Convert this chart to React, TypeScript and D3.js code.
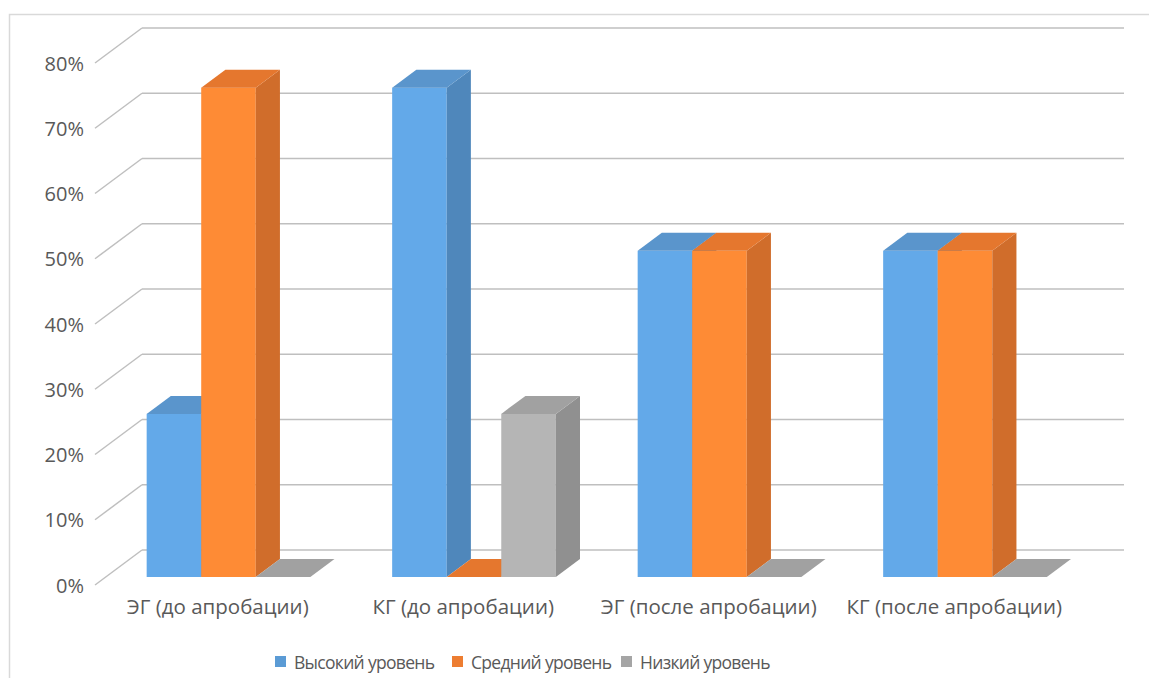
import React from "react";
import * as d3 from "d3";

const categories = ["ЭГ (до апробации)", "КГ (до апробации)", "ЭГ (после апробации)", "КГ (после апробации)"];
const seriesNames = ["Высокий уровень", "Средний уровень", "Низкий уровень"];
const high = [0.25, 0.75, 0.5, 0.5];
const mid = [0.75, 0, 0.5, 0.5];
const low = [0, 0.25, 0, 0];
const yTicks = [0, 0.1, 0.2, 0.3, 0.4, 0.5, 0.6, 0.7, 0.8];

const seriesValues = [high, mid, low];
const legendColors = ["#5B9BD5", "#ED7D31", "#A5A5A5"];
const faceColors = [
  { front: "#63A9E9", side: "#4F87BB", top: "#5A95CC" },
  { front: "#FE8B35", side: "#D06D2B", top: "#E5772E" },
  { front: "#B5B5B5", side: "#909090", top: "#A1A1A1" },
];

export default function App() {
  const W = 1149, H = 678;
  // back wall geometry
  const backX0 = 142, backX1 = 1124, backY0 = 550;
  const depthDx = -47, depthDy = 35; // back -> front
  const y = d3.scaleLinear().domain([0, 0.8]).range([0, 522]);

  // bar placement inside depth
  const fFront = 27 / 35, fBack = 9 / 35;
  const barFrontX0 = backX0 + depthDx * fFront;
  const barBaseY = backY0 + depthDy * fFront;
  const bdx = -depthDx * (fFront - fBack);
  const bdy = depthDy * (fFront - fBack);
  const plotW = backX1 - backX0;

  const xCat = d3.scaleBand<string>().domain(categories).range([barFrontX0, barFrontX0 + plotW]);
  const xSer = d3.scaleBand<string>().domain(seriesNames).range([0, xCat.bandwidth()]).paddingInner(0).paddingOuter(0.75);
  const xLabel = d3.scaleBand<string>().domain(categories).range([backX0 + depthDx, backX1 + depthDx]);

  const font = "'Open Sans', 'DejaVu Sans', sans-serif";
  const textColor = "#595959";
  const gridColor = "#BFBFBF";

  const bars: React.ReactNode[] = [];
  categories.forEach((c, ci) => {
    seriesNames.forEach((s, si) => {
      const v = seriesValues[si][ci];
      const x0 = (xCat(c) as number) + (xSer(s) as number);
      const w = xSer.bandwidth();
      const h = y(v);
      const yb = barBaseY;
      const yt = yb - h;
      const col = faceColors[si];
      const pts = (arr: number[][]) => arr.map((p) => p.join(",")).join(" ");
      bars.push(
        <g key={`${ci}-${si}`}>
          {h > 0 && <rect x={x0} y={yt} width={w} height={h} fill={col.front} />}
          {h > 0 && (
            <polygon
              points={pts([[x0 + w, yt], [x0 + w + bdx, yt - bdy], [x0 + w + bdx, yb - bdy], [x0 + w, yb]])}
              fill={col.side}
            />
          )}
          <polygon
            points={pts([[x0, yt], [x0 + bdx, yt - bdy], [x0 + w + bdx, yt - bdy], [x0 + w, yt]])}
            fill={h > 0 ? col.top : col.side === "#909090" ? "#A1A1A1" : col.top}
          />
        </g>
      );
    });
  });

  const legendX = [275, 452, 621];

  return (
    <svg width={W} height={H} style={{ position: "absolute", left: 0, top: 0, display: "block" }} fontFamily={font}>
      <rect x={0} y={0} width={W} height={H} fill="#ffffff" />
      <rect x={9.5} y={14.5} width={1200} height={700} fill="#ffffff" stroke="#D9D9D9" strokeWidth={1.5} />
      {yTicks.map((t) => {
        const yy = backY0 - y(t);
        return (
          <g key={t}>
            <line x1={backX0} x2={backX1} y1={yy} y2={yy} stroke={gridColor} strokeWidth={1.5} />
            <line x1={backX0 + depthDx} y1={yy + depthDy} x2={backX0} y2={yy} stroke={gridColor} strokeWidth={1.5} />
            <text x={84} y={yy + depthDy} textAnchor="end" dominantBaseline="central" fontSize={20} fill={textColor}>
              {d3.format(".0%")(t)}
            </text>
          </g>
        );
      })}
      {bars}
      {categories.map((c) => (
        <text
          key={c}
          x={(xLabel(c) as number) + xLabel.bandwidth() / 2}
          y={606}
          textAnchor="middle"
          dominantBaseline="central"
          fontSize={20.5}
          fill={textColor}
        >
          {c}
        </text>
      ))}
      {seriesNames.map((s, i) => (
        <g key={s}>
          <rect x={legendX[i]} y={656} width={11} height={11} fill={legendColors[i]} />
          <text
            x={legendX[i] + 19}
            y={662}
            dominantBaseline="central"
            fontSize={17.5}
            letterSpacing={-0.7}
            fill={textColor}
          >
            {s}
          </text>
        </g>
      ))}
    </svg>
  );
}
